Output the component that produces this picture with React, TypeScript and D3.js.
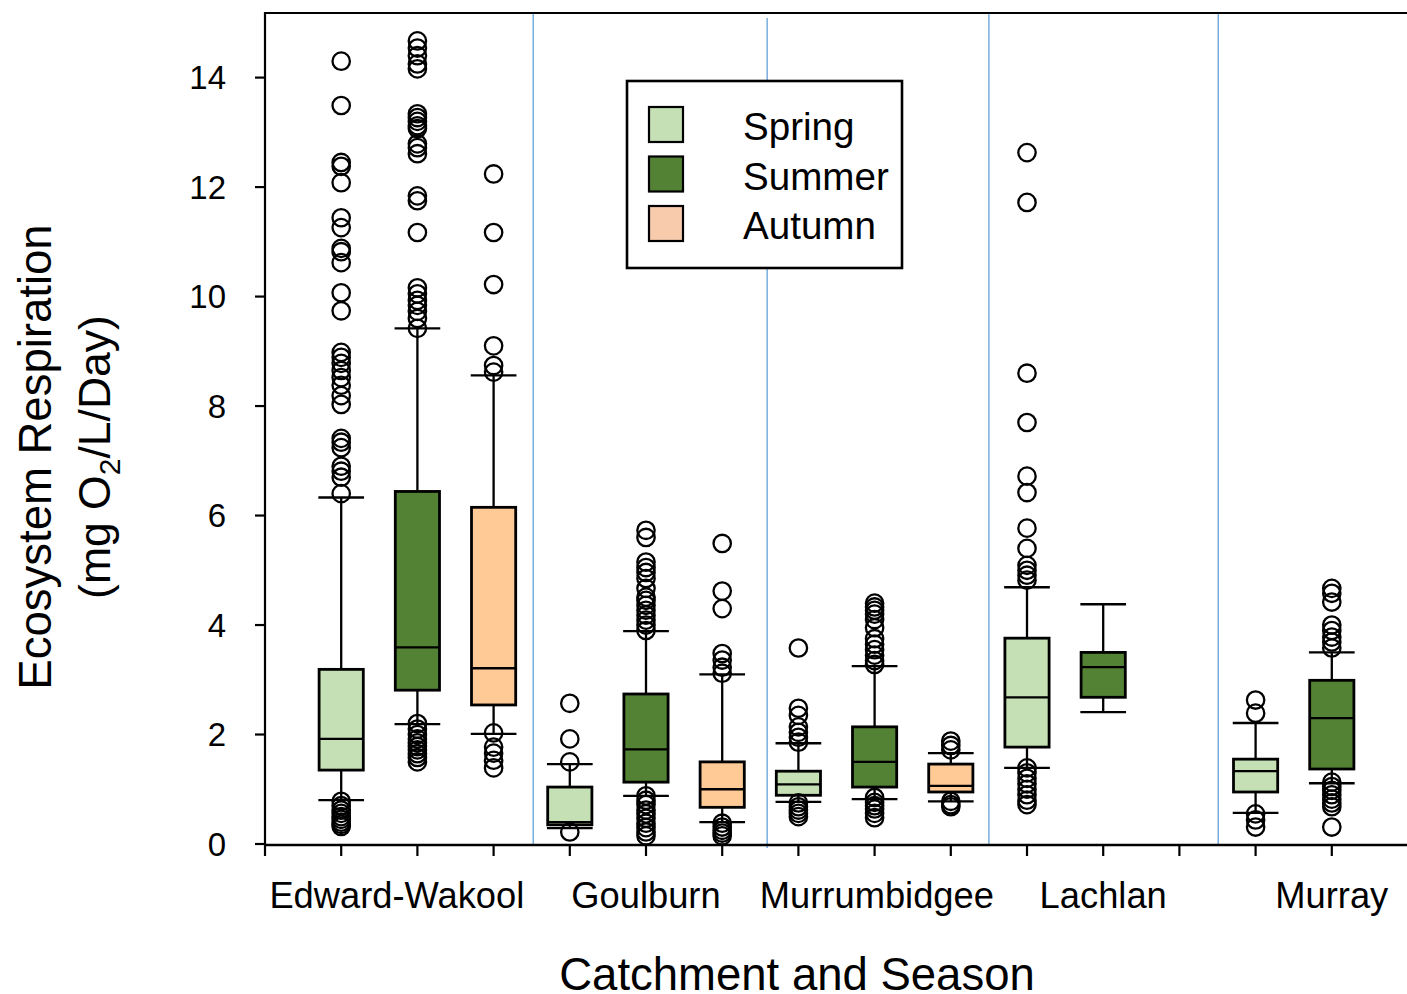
import React from 'react';
import * as d3 from 'd3';

// catchments, seasons and the box stats
const catchments = ['Edward-Wakool', 'Goulburn', 'Murrumbidgee', 'Lachlan', 'Murray'];
const catchmentLabelAt = [1.73, 5, 8.03, 11, 14];
const separatorAt = [3.52, 6.59, 9.5, 12.51];
const seasons = ['Spring', 'Summer', 'Autumn'];
const yTicks = [0, 2, 4, 6, 8, 10, 12, 14];
const xTicks = [0, 1, 2, 3, 4, 5, 6, 7, 8, 9, 10, 11, 12, 13, 14];

const boxCatchment = [0, 0, 0, 1, 1, 1, 2, 2, 2, 3, 3, 4, 4];
const boxSeason = [0, 1, 2, 0, 1, 2, 0, 1, 2, 0, 1, 0, 1];
const whiskerLow = [0.8, 2.19, 2.01, 0.29, 0.88, 0.4, 0.77, 0.82, 0.78, 1.39, 2.41, 0.57, 1.11];
const q1 = [1.35, 2.81, 2.54, 0.35, 1.13, 0.67, 0.89, 1.04, 0.95, 1.77, 2.68, 0.95, 1.37];
const median = [1.92, 3.59, 3.21, 0.4, 1.73, 1.0, 1.09, 1.5, 1.06, 2.68, 3.23, 1.33, 2.3];
const q3 = [3.19, 6.44, 6.15, 1.04, 2.74, 1.5, 1.33, 2.14, 1.46, 3.76, 3.5, 1.55, 2.99];
const whiskerHigh = [6.33, 9.42, 8.56, 1.46, 3.89, 3.1, 1.84, 3.25, 1.66, 4.69, 4.38, 2.21, 3.5];
const outliers = [
  [14.3, 13.49, 12.45, 12.38, 12.08, 11.44, 11.26, 10.88, 10.82, 10.62, 10.07, 9.74, 8.98, 8.89, 8.78, 8.65, 8.52, 8.38, 8.19, 8.03, 7.41, 7.34, 7.24, 6.9, 6.81, 6.7, 6.4,
    0.78, 0.7, 0.62, 0.56, 0.5, 0.45, 0.4, 0.36, 0.32],
  [14.67, 14.54, 14.4, 14.25, 14.16, 13.34, 13.27, 13.2, 13.12, 13.07, 12.79, 12.72, 12.61, 11.84, 11.75, 11.17, 10.16, 10.05, 9.93, 9.84, 9.73, 9.6, 9.42,
    2.2, 2.1, 2.0, 1.92, 1.85, 1.78, 1.72, 1.65, 1.58, 1.5],
  [12.24, 11.17, 10.22, 9.1, 8.74, 8.62, 2.03, 1.77, 1.66, 1.53, 1.39],
  [2.57, 1.92, 1.5, 0.22],
  [5.73, 5.6, 5.15, 5.05, 4.96, 4.85, 4.67, 4.51, 4.45, 4.36, 4.27, 4.18, 4.09, 4.0, 3.9,
    0.88, 0.8, 0.72, 0.62, 0.55, 0.47, 0.38, 0.3, 0.22, 0.15],
  [5.49, 4.62, 4.3, 3.48, 3.36, 3.23, 3.12, 0.38, 0.31, 0.25, 0.2, 0.15],
  [3.58, 2.48, 2.35, 2.14, 2.04, 1.95, 1.86, 0.75, 0.68, 0.62, 0.56, 0.5],
  [4.4, 4.33, 4.27, 4.2, 4.1, 3.95, 3.75, 3.65, 3.55, 3.45, 3.35, 3.28, 0.85, 0.76, 0.7, 0.64, 0.56, 0.48],
  [1.88, 1.8, 1.72, 0.78, 0.72, 0.68],
  [12.63, 11.72, 8.6, 7.7, 6.72, 6.42, 5.77, 5.4, 5.09, 5.0, 4.91, 4.82, 1.39, 1.3, 1.2, 1.1, 1.0, 0.9, 0.8, 0.72],
  [],
  [2.63, 2.39, 0.55, 0.44, 0.31],
  [4.67, 4.58, 4.42, 4.0, 3.9, 3.78, 3.69, 3.58, 1.13, 1.05, 0.98, 0.9, 0.82, 0.75, 0.68, 0.31],
];

const boxFill = ['#c5e0b4', '#548235', '#ffca96'];
const legendFill = ['#c5e0b4', '#548235', '#f8cbad'];

const W = 1407;
const H = 994;
const font = 'Liberation Sans, Arial, sans-serif';

export default function App() {
  const x = d3.scaleLinear().domain([0, 15]).range([265, 1408]);
  const y = d3.scaleLinear().domain([0, 15.18]).range([844, 13]);
  const halfBox = (x(0.58) - x(0)) / 2;
  const halfCap = (x(0.6) - x(0)) / 2;

  return (
    <svg width={W} height={H} style={{ position: 'absolute', left: 0, top: 0, background: '#fff' }} fontFamily={font}>
      {/* catchment separators */}
      {separatorAt.map((s, i) => (
        <line key={'sep' + i} x1={x(s)} x2={x(s)} y1={i === 1 ? 18 : 13} y2={i === 1 ? 848 : 845} stroke="#6fa8dc" strokeWidth={1.4} />
      ))}

      {/* boxes */}
      {q1.map((_, i) => {
        const cx = x(boxCatchment[i] * 3 + boxSeason[i] + 1);
        return (
          <g key={'box' + i}>
            <line x1={cx} x2={cx} y1={y(q3[i])} y2={y(whiskerHigh[i])} stroke="#000" strokeWidth={2.3} />
            <line x1={cx} x2={cx} y1={y(q1[i])} y2={y(whiskerLow[i])} stroke="#000" strokeWidth={2.3} />
            <line x1={cx - halfCap} x2={cx + halfCap} y1={y(whiskerHigh[i])} y2={y(whiskerHigh[i])} stroke="#000" strokeWidth={2.3} />
            <line x1={cx - halfCap} x2={cx + halfCap} y1={y(whiskerLow[i])} y2={y(whiskerLow[i])} stroke="#000" strokeWidth={2.3} />
            <rect x={cx - halfBox} y={y(q3[i])} width={halfBox * 2} height={y(q1[i]) - y(q3[i])}
              fill={boxFill[boxSeason[i]]} stroke="#000" strokeWidth={2.8} />
            <line x1={cx - halfBox} x2={cx + halfBox} y1={y(median[i])} y2={y(median[i])} stroke="#000" strokeWidth={2.3} />
            {outliers[i].map((v, j) => (
              <circle key={j} cx={cx} cy={y(v)} r={8.7} fill="none" stroke="#000" strokeWidth={2.3} />
            ))}
          </g>
        );
      })}

      {/* frame / axes */}
      <line x1={265} x2={W} y1={13} y2={13} stroke="#000" strokeWidth={2.2} />
      <line x1={265} x2={265} y1={12} y2={845} stroke="#000" strokeWidth={2.2} />
      <line x1={264} x2={W} y1={845} y2={845} stroke="#000" strokeWidth={2.4} />

      {yTicks.map(t => (
        <g key={'yt' + t}>
          <line x1={255} x2={265} y1={y(t)} y2={y(t)} stroke="#000" strokeWidth={2.2} />
          <text x={226} y={y(t)} dy="0.36em" textAnchor="end" fontSize={33}>{t}</text>
        </g>
      ))}
      {xTicks.map(t => (
        <line key={'xt' + t} x1={x(t)} x2={x(t)} y1={845} y2={856} stroke="#000" strokeWidth={2.2} />
      ))}
      {catchments.map((c, i) => (
        <text key={c} x={x(catchmentLabelAt[i])} y={908} textAnchor="middle" fontSize={36.3}>{c}</text>
      ))}

      <text x={797} y={990} textAnchor="middle" fontSize={45.5}>Catchment and Season</text>
      <g transform="translate(51,457) rotate(-90)">
        <text x={0} y={0} textAnchor="middle" fontSize={45.5}>Ecosystem Respiration</text>
      </g>
      <g transform="translate(110,457) rotate(-90)">
        <text x={0} y={0} textAnchor="middle" fontSize={44.5}>
          (mg O<tspan fontSize={30} dy={10}>2</tspan><tspan dy={-10}>/L/Day)</tspan>
        </text>
      </g>

      {/* legend */}
      <rect x={627} y={81} width={275} height={187} fill="#fff" stroke="#000" strokeWidth={2.6} />
      {seasons.map((s, i) => (
        <g key={s}>
          <rect x={649} y={107 + i * 49.5} width={34} height={35} fill={legendFill[i]} stroke="#000" strokeWidth={2.2} />
          <text x={743} y={140 + i * 49.5} fontSize={38.6}>{s}</text>
        </g>
      ))}
    </svg>
  );
}
